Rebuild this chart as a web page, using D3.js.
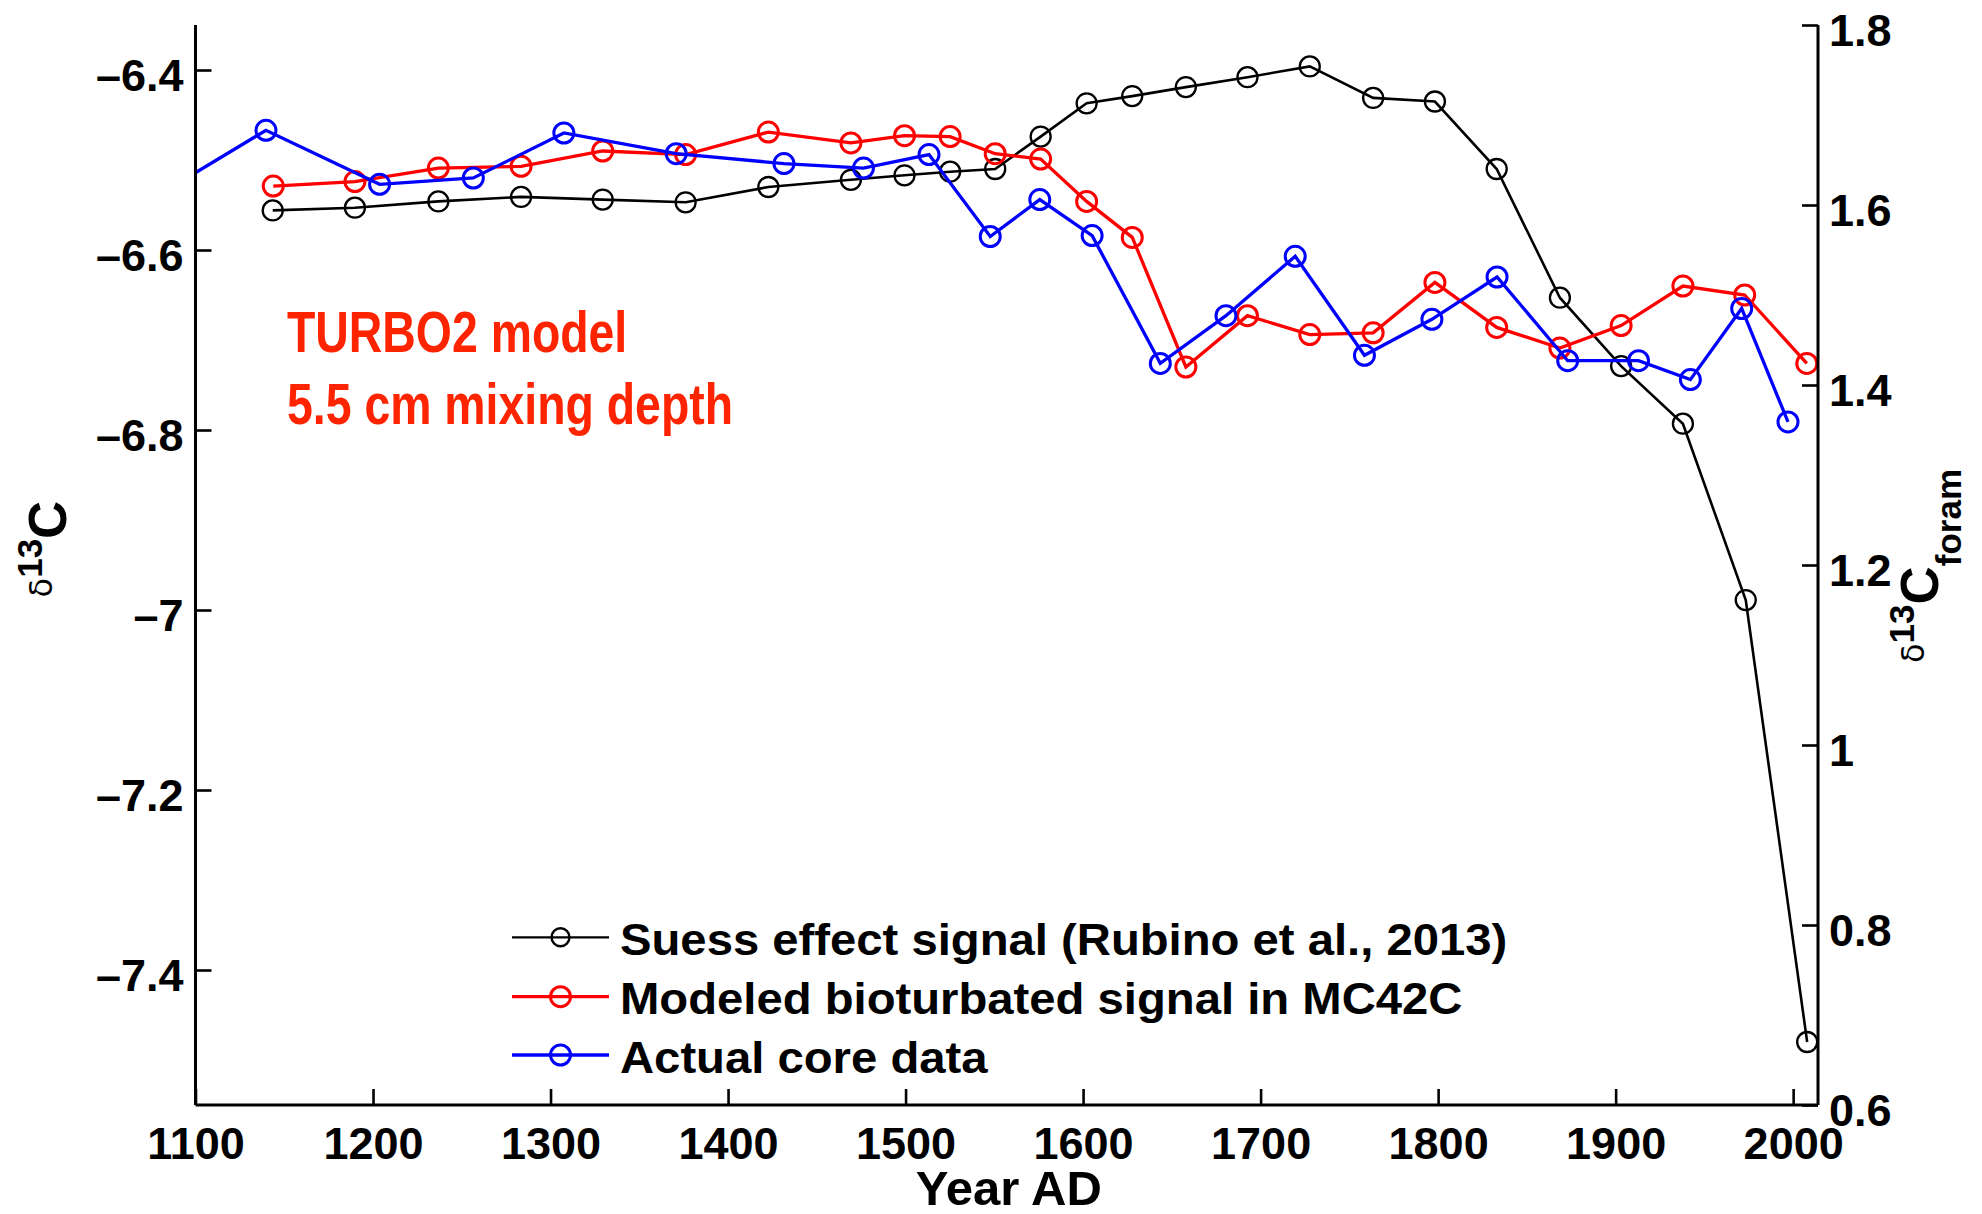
<!DOCTYPE html>
<html><head><meta charset="utf-8">
<script src="https://cdn.jsdelivr.net/npm/d3@7"></script>
<style>
html,body{margin:0;padding:0;background:#fff;}
svg{display:block;}
text{font-family:"Liberation Sans Narrow","Arial Narrow",sans-serif;font-weight:bold;fill:#000;}
</style></head>
<body>
<svg id="chart" width="1982" height="1214"></svg>
<script>
// ---- data ----
const suessYears = [1143.5,1189.8,1236.8,1283.4,1329.4,1376.1,1422.7,1469.2,1499.4,1525.1,1550.5,1576.1,1602,1627.7,1657.9,1692.6,1727.7,1763.4,1798.2,1833,1868.6,1903.1,1937.9,1973.3,2007.9];
const suessValues = [-6.556,-6.553,-6.546,-6.541,-6.544,-6.547,-6.530,-6.522,-6.517,-6.513,-6.510,-6.474,-6.437,-6.429,-6.419,-6.408,-6.396,-6.431,-6.435,-6.510,-6.653,-6.729,-6.793,-6.989,-7.480];

const modelYears = [1143.8,1189.8,1236.8,1283.4,1329.4,1376.1,1422.7,1469.2,1499.4,1525.1,1550.5,1576.1,1602,1627.7,1657.9,1692.6,1727.7,1763.4,1798.2,1833,1868.6,1903.1,1937.9,1972.7,2007.7];
const modelValues = [1.621,1.626,1.641,1.643,1.660,1.656,1.681,1.669,1.677,1.676,1.657,1.651,1.604,1.564,1.420,1.477,1.456,1.458,1.514,1.464,1.441,1.466,1.510,1.500,1.424];

const coreYears = [1079,1139.7,1203.7,1256.5,1307.5,1370.8,1431.5,1476.3,1513.2,1547.7,1575.6,1605.1,1643.5,1680.5,1719.5,1758.5,1796.5,1833.2,1873,1912.9,1942.1,1971,1997.1];
const coreValues = [1.611,1.683,1.623,1.630,1.680,1.657,1.646,1.641,1.656,1.565,1.606,1.566,1.424,1.477,1.543,1.433,1.473,1.520,1.427,1.427,1.406,1.485,1.359];

const xTicks = [1100,1200,1300,1400,1500,1600,1700,1800,1900,2000];
const leftTicks = [-7.4,-7.2,-7,-6.8,-6.6,-6.4];
const leftTickLabels = ["\u20137.4","\u20137.2","\u20137","\u20136.8","\u20136.6","\u20136.4"];
const rightTicks = [0.6,0.8,1,1.2,1.4,1.6,1.8];
const rightTickLabels = ["0.6","0.8","1","1.2","1.4","1.6","1.8"];
const legendLabels = ["Suess effect signal (Rubino et al., 2013)","Modeled bioturbated signal in MC42C","Actual core data"];
const annotationLines = ["TURBO2 model","5.5 cm mixing depth"];

// ---- layout ----
const L = 195.5, R = 1818, T = 25, B = 1105;
const svg = d3.select("#chart");
const x = d3.scaleLinear().domain([1100, 2014]).range([L, R]);
const yL = d3.scaleLinear().domain([-7.55, -6.35]).range([B, T]);
const yR = d3.scaleLinear().domain([0.6, 1.8]).range([B, T]);

svg.append("defs").append("clipPath").attr("id","clip")
  .append("rect").attr("x",L).attr("y",T-15).attr("width",R-L+15).attr("height",B-T+15);

const series = [
  {years: suessYears, values: suessValues, scale: yL, color:"#000000", lw:2.6},
  {years: modelYears, values: modelValues, scale: yR, color:"#ff0000", lw:3.3},
  {years: coreYears, values: coreValues, scale: yR, color:"#0000ff", lw:3.3}
];

const plot = svg.append("g").attr("clip-path","url(#clip)");
series.forEach(s => {
  const pts = s.years.map((yr,i)=>[yr, s.values[i]]);
  const line = d3.line().x(d=>x(d[0])).y(d=>s.scale(d[1]));
  plot.append("path").datum(pts).attr("d",line)
    .attr("fill","none").attr("stroke",s.color).attr("stroke-width",s.lw).attr("stroke-linejoin","miter");
  plot.selectAll(null).data(pts.filter(d=>d[0]>=1100)).enter().append("circle")
    .attr("cx",d=>x(d[0])).attr("cy",d=>s.scale(d[1])).attr("r",10)
    .attr("fill","none").attr("stroke",s.color).attr("stroke-width",s.lw-0.3);
});

// ---- axes ----
const tickLen = 16;
const axisW = 3;
const fs = 45;
// bottom
const xAxis = d3.axisBottom(x).tickValues(xTicks).tickSize(-tickLen).tickPadding(24).tickFormat(d3.format("d"));
const gx = svg.append("g").attr("transform",`translate(0,${B})`).call(xAxis);
gx.select(".domain").attr("d",`M${L},0H${R}`).attr("stroke","#000").attr("stroke-width",axisW);
gx.selectAll(".tick line").attr("stroke","#000").attr("stroke-width",2.6);
gx.selectAll(".tick text").attr("font-size",fs).attr("font-family",null).attr("dy","0.71em").attr("y",22);

// left
const yAxisL = d3.axisLeft(yL).tickValues(leftTicks).tickSize(-tickLen).tickPadding(11)
  .tickFormat((d,i)=>leftTickLabels[i]);
const gl = svg.append("g").attr("transform",`translate(${L},0)`).call(yAxisL);
gl.select(".domain").attr("d",`M0,${T}V${B}`).attr("stroke","#000").attr("stroke-width",axisW);
gl.selectAll(".tick line").attr("stroke","#000").attr("stroke-width",2.6);
gl.selectAll(".tick text").attr("font-size",fs).attr("font-family",null).attr("x",-12).attr("dy","0.45em");

// right
const yAxisR = d3.axisRight(yR).tickValues(rightTicks).tickSize(-tickLen).tickPadding(11)
  .tickFormat((d,i)=>rightTickLabels[i]);
const gr = svg.append("g").attr("transform",`translate(${R},0)`).call(yAxisR);
gr.select(".domain").attr("d",`M0,${T}V${B}`).attr("stroke","#000").attr("stroke-width",axisW);
gr.selectAll(".tick line").attr("stroke","#000").attr("stroke-width",2.6);
gr.selectAll(".tick text").attr("font-size",fs).attr("font-family",null).attr("x",11).attr("dy","0.45em");

// axis titles
svg.append("text").attr("x",(L+R)/2 + 2).attr("y",1205).attr("text-anchor","middle")
  .attr("font-size",49).text("Year AD");

const lt = svg.append("text").attr("transform","translate(66,549) rotate(-90)").attr("text-anchor","middle").attr("font-size",53);
lt.append("tspan").attr("font-family","DejaVu Sans").attr("font-weight","normal").attr("font-size",32).attr("dy",-14).text("\u03b4");
lt.append("tspan").attr("font-size",35).attr("dy",-10).text("13");
lt.append("tspan").attr("dy",24).text("C");

const rt = svg.append("text").attr("transform","translate(1938,566) rotate(-90)").attr("text-anchor","middle").attr("font-size",53);
rt.append("tspan").attr("font-family","DejaVu Sans").attr("font-weight","normal").attr("font-size",32).attr("dy",-14).text("\u03b4");
rt.append("tspan").attr("font-size",35).attr("dy",-10).text("13");
rt.append("tspan").attr("dy",24).text("C");
rt.append("tspan").attr("font-size",35).attr("dy",23).text("foram");

// annotation (condensed)
annotationLines.forEach((t,i)=>{
  svg.append("g").attr("transform",`translate(287,${351.5 + i*72}) scale(0.8,1)`)
    .append("text").attr("x",0).attr("y",0).attr("font-size",58)
    .style("fill","#ff2400").text(t);
});

// legend
const leg = svg.append("g");
const rows = [937.3, 996.7, 1055];
series.forEach((s,i)=>{
  const g = leg.append("g").attr("transform",`translate(0,${rows[i]})`);
  g.append("line").attr("x1",512).attr("x2",609).attr("y1",0).attr("y2",0)
    .attr("stroke",s.color).attr("stroke-width",i===0?2.2:3.3);
  g.append("circle").attr("cx",560.5).attr("cy",0).attr("r",i===0?9:10)
    .attr("fill","none").attr("stroke",s.color).attr("stroke-width",i===0?2.4:3);
  g.append("g").attr("transform","translate(620,17.5) scale(1.05,1)")
    .append("text").attr("x",0).attr("y",0).attr("font-size",45).text(legendLabels[i]);
});
</script>
</body></html>
